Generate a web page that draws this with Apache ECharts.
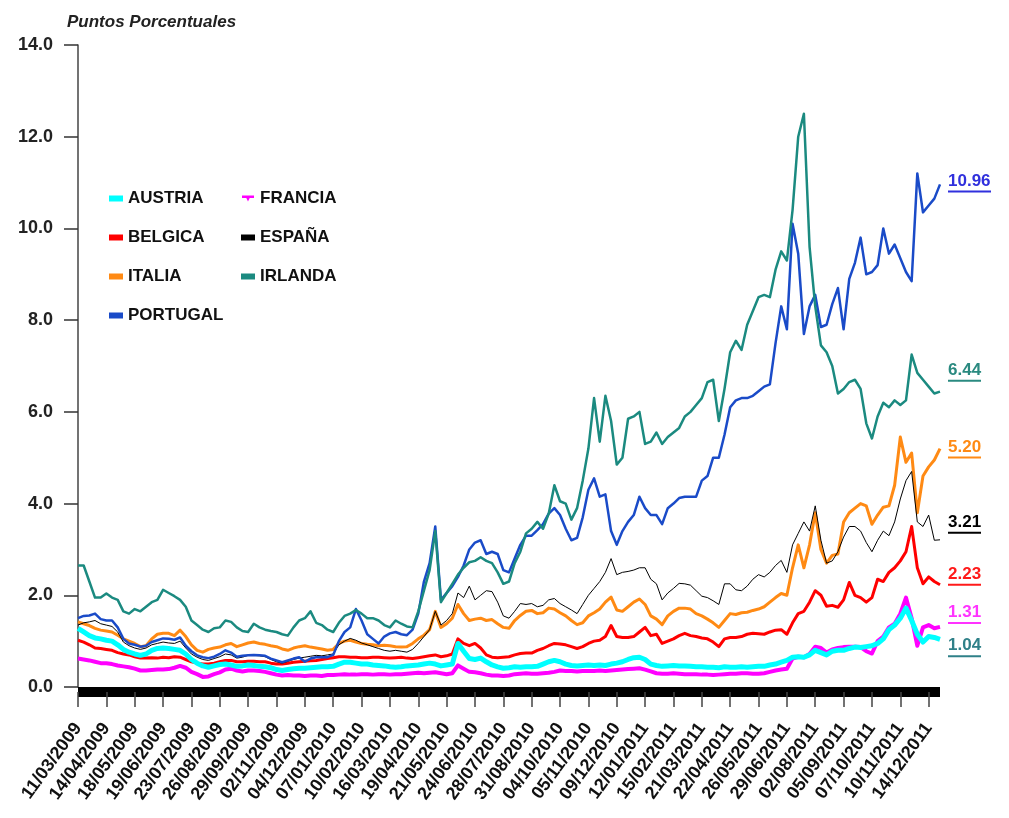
<!DOCTYPE html>
<html>
<head>
<meta charset="utf-8">
<script src="https://cdn.jsdelivr.net/npm/echarts@6/dist/echarts.min.js"></script>
<style>
html,body{margin:0;padding:0;background:#fff;}
#chart{width:1009px;height:818px;}
</style>
</head>
<body>
<div id="chart"></div>
<script>
// Tick dates shown on the x axis
var tickLabels = ['11/03/2009','14/04/2009','18/05/2009','19/06/2009','23/07/2009','26/08/2009','29/09/2009','02/11/2009','04/12/2009','07/01/2010','10/02/2010','16/03/2010','19/04/2010','21/05/2010','24/06/2010','28/07/2010','31/08/2010','04/10/2010','05/11/2010','09/12/2010','12/01/2011','15/02/2011','21/03/2011','22/04/2011','26/05/2011','29/06/2011','02/08/2011','05/09/2011','07/10/2011','10/11/2011','14/12/2011'];
var pointsPerTick = 5;
var extraPoints = 2;

var austria = [1.28,1.2,1.12,1.07,1.05, 1.02,1.0,0.92,0.82,0.76, 0.72,0.69,0.72,0.8,0.84, 0.85,0.84,0.82,0.8,0.72, 0.6,0.52,0.46,0.43,0.46, 0.49,0.5,0.48,0.45,0.46,
 0.48,0.47,0.45,0.44,0.42, 0.38,0.36,0.38,0.4,0.41, 0.41,0.42,0.43,0.44,0.44, 0.45,0.5,0.54,0.54,0.52, 0.5,0.5,0.48,0.47,0.46, 0.44,0.43,0.44,0.46,0.47,
 0.48,0.5,0.52,0.5,0.46, 0.48,0.5,0.95,0.78,0.62, 0.6,0.63,0.55,0.48,0.44, 0.41,0.42,0.44,0.43,0.44, 0.44,0.45,0.5,0.55,0.58, 0.55,0.5,0.47,0.46,0.47,
 0.48,0.47,0.48,0.47,0.5, 0.52,0.55,0.6,0.64,0.65, 0.6,0.5,0.47,0.45,0.46, 0.47,0.46,0.46,0.45,0.44, 0.44,0.43,0.43,0.42,0.44, 0.43,0.43,0.44,0.43,0.44,
 0.45,0.45,0.48,0.5,0.54, 0.58,0.65,0.66,0.65,0.7, 0.8,0.75,0.7,0.78,0.8, 0.8,0.84,0.87,0.86,0.88, 0.9,0.95,1.05,1.25,1.35, 1.5,1.72,1.45,1.15,0.98,
 1.1,1.08,1.04];
var francia = [0.62,0.6,0.58,0.55,0.52, 0.52,0.5,0.47,0.45,0.43, 0.4,0.36,0.36,0.37,0.38, 0.38,0.39,0.42,0.46,0.42, 0.33,0.28,0.22,0.23,0.28, 0.32,0.38,0.4,0.36,0.34,
 0.36,0.36,0.35,0.33,0.3, 0.27,0.25,0.26,0.25,0.25, 0.24,0.25,0.25,0.24,0.26, 0.26,0.27,0.28,0.27,0.27, 0.28,0.28,0.27,0.28,0.28, 0.27,0.28,0.28,0.29,0.3,
 0.31,0.3,0.31,0.32,0.3, 0.28,0.3,0.47,0.4,0.33, 0.32,0.3,0.27,0.25,0.25, 0.24,0.25,0.28,0.29,0.3, 0.29,0.29,0.3,0.31,0.33, 0.36,0.35,0.35,0.34,0.35,
 0.35,0.35,0.36,0.35,0.36, 0.37,0.38,0.39,0.4,0.41, 0.38,0.34,0.3,0.29,0.29, 0.3,0.29,0.28,0.28,0.28, 0.27,0.27,0.26,0.27,0.28, 0.29,0.29,0.3,0.3,0.29,
 0.29,0.3,0.33,0.36,0.38, 0.4,0.62,0.66,0.65,0.72, 0.88,0.85,0.75,0.82,0.85, 0.87,0.88,0.88,0.87,0.78, 0.73,1.0,1.1,1.3,1.38, 1.6,1.95,1.5,0.9,1.3,
 1.35,1.28,1.31];
var belgica = [1.02,0.98,0.92,0.85,0.84, 0.82,0.8,0.75,0.72,0.7, 0.66,0.63,0.63,0.64,0.63, 0.65,0.64,0.66,0.65,0.6, 0.55,0.52,0.5,0.5,0.52, 0.55,0.58,0.58,0.55,0.55,
 0.56,0.56,0.55,0.55,0.52, 0.5,0.5,0.52,0.54,0.55, 0.56,0.57,0.58,0.6,0.62, 0.64,0.66,0.66,0.65,0.65, 0.64,0.64,0.65,0.65,0.64, 0.63,0.64,0.65,0.63,0.62,
 0.64,0.66,0.68,0.7,0.66, 0.68,0.72,1.05,0.95,0.9, 0.95,0.85,0.7,0.65,0.64, 0.65,0.66,0.7,0.73,0.74, 0.74,0.8,0.84,0.9,0.95, 0.94,0.92,0.88,0.84,0.88,
 0.95,1.0,1.02,1.1,1.34, 1.1,1.08,1.08,1.1,1.2, 1.3,1.12,1.15,0.95,1.0, 1.05,1.12,1.17,1.12,1.1, 1.07,1.05,0.98,0.88,1.05, 1.08,1.08,1.1,1.15,1.17,
 1.16,1.15,1.2,1.24,1.25, 1.15,1.4,1.6,1.65,1.85, 2.1,2.0,1.76,1.78,1.74, 1.9,2.28,2.0,1.95,1.85, 1.95,2.35,2.3,2.5,2.6, 2.75,2.95,3.5,2.6,2.25,
 2.4,2.3,2.23];
var espana = [1.35,1.4,1.42,1.45,1.38, 1.35,1.32,1.2,0.98,0.9, 0.85,0.82,0.85,0.92,0.95, 0.98,0.96,0.95,1.0,0.85, 0.72,0.65,0.6,0.58,0.62, 0.66,0.72,0.7,0.63,0.65,
 0.69,0.69,0.68,0.66,0.6, 0.55,0.52,0.56,0.6,0.63, 0.65,0.67,0.69,0.68,0.7, 0.72,0.92,1.0,1.06,1.02, 0.96,0.92,0.88,0.84,0.8, 0.78,0.8,0.78,0.76,0.82,
 0.95,1.1,1.25,1.65,1.35, 1.45,1.6,2.05,1.95,2.2, 1.9,2.0,2.1,2.08,1.85, 1.55,1.5,1.65,1.82,1.8, 1.82,1.75,1.78,1.9,1.93, 1.82,1.75,1.68,1.6,1.8,
 2.0,2.15,2.3,2.5,2.8, 2.45,2.5,2.52,2.55,2.6, 2.6,2.35,2.25,1.9,2.05, 2.15,2.26,2.25,2.22,2.1, 1.98,1.95,1.88,1.8,2.25, 2.25,2.12,2.1,2.2,2.35,
 2.45,2.4,2.5,2.65,2.76, 2.5,3.1,3.35,3.6,3.4, 3.95,3.2,2.7,2.75,2.95, 3.27,3.5,3.5,3.4,3.15, 2.95,3.2,3.4,3.3,3.6, 4.1,4.5,4.7,3.6,3.5,
 3.75,3.2,3.21];
var italia = [1.42,1.38,1.34,1.28,1.24, 1.22,1.2,1.13,1.05,1.0, 0.95,0.88,0.9,1.05,1.15, 1.17,1.17,1.12,1.24,1.1, 0.92,0.8,0.76,0.82,0.85, 0.87,0.92,0.95,0.88,0.92,
 0.96,0.98,0.95,0.93,0.9, 0.88,0.83,0.8,0.85,0.88, 0.9,0.87,0.85,0.83,0.8, 0.82,0.95,1.0,1.02,0.98, 0.95,0.93,0.92,0.9,0.91, 0.9,0.88,0.87,0.88,0.95,
 1.05,1.13,1.25,1.65,1.3, 1.38,1.5,1.8,1.6,1.45, 1.48,1.5,1.45,1.47,1.38, 1.3,1.28,1.45,1.56,1.65, 1.67,1.6,1.62,1.72,1.7, 1.62,1.55,1.45,1.36,1.4,
 1.55,1.62,1.7,1.85,1.96, 1.68,1.65,1.75,1.85,1.92, 1.8,1.55,1.48,1.36,1.55, 1.65,1.72,1.72,1.7,1.6, 1.55,1.48,1.4,1.3,1.45, 1.6,1.58,1.62,1.63,1.67,
 1.7,1.75,1.85,1.95,2.04, 2.0,2.6,3.1,2.6,3.1, 3.8,3.0,2.7,2.87,2.9, 3.6,3.8,3.9,4.0,3.95, 3.55,3.75,3.92,3.95,4.4, 5.45,4.9,5.1,3.8,4.6,
 4.8,4.95,5.2];
var irlanda = [2.65,2.65,2.3,1.95,1.95, 2.04,1.95,1.9,1.65,1.6, 1.7,1.65,1.75,1.85,1.9, 2.12,2.05,1.98,1.9,1.75, 1.45,1.35,1.25,1.2,1.28, 1.3,1.45,1.42,1.3,1.22,
 1.2,1.38,1.3,1.25,1.22, 1.2,1.15,1.12,1.3,1.45, 1.5,1.65,1.4,1.35,1.25, 1.2,1.4,1.55,1.6,1.68, 1.6,1.5,1.5,1.45,1.35, 1.3,1.45,1.38,1.32,1.3,
 1.65,2.1,2.55,3.4,1.85, 2.05,2.25,2.45,2.6,2.72, 2.75,2.83,2.75,2.7,2.5, 2.25,2.3,2.7,2.95,3.35, 3.45,3.6,3.45,3.78,4.4, 4.05,4.0,3.65,3.9,4.5,
 5.2,6.3,5.35,6.35,5.8, 4.85,5.0,5.85,5.9,6.0, 5.3,5.35,5.55,5.3,5.45, 5.55,5.65,5.9,6.0,6.15, 6.3,6.65,6.7,5.8,6.5, 7.3,7.55,7.35,7.9,8.2,
 8.5,8.55,8.5,9.1,9.5, 9.3,10.4,12.0,12.5,9.6, 8.3,7.45,7.3,7.0,6.4, 6.5,6.65,6.7,6.5,5.75, 5.42,5.9,6.2,6.1,6.25, 6.15,6.25,7.25,6.85,6.7,
 6.55,6.4,6.44];
var portugal = [1.5,1.55,1.56,1.6,1.48, 1.45,1.45,1.3,1.05,0.95, 0.92,0.88,0.9,0.98,1.02, 1.06,1.05,1.03,1.08,0.9, 0.78,0.69,0.65,0.63,0.66, 0.72,0.8,0.75,0.66,0.68,
 0.69,0.7,0.69,0.68,0.62, 0.58,0.54,0.58,0.62,0.65, 0.55,0.62,0.65,0.65,0.65, 0.7,1.0,1.2,1.3,1.7, 1.45,1.15,1.05,0.95,1.1, 1.17,1.2,1.15,1.13,1.25,
 1.6,2.3,2.7,3.5,1.9, 2.05,2.2,2.4,2.65,3.0, 3.15,3.2,2.9,2.95,2.9, 2.55,2.5,2.8,3.1,3.3, 3.3,3.42,3.55,3.78,3.9, 3.75,3.45,3.2,3.25,3.7,
 4.3,4.55,4.15,4.2,3.4, 3.1,3.4,3.6,3.75,4.15, 3.9,3.75,3.75,3.55,3.9, 4.0,4.12,4.15,4.15,4.15, 4.5,4.6,5.0,5.0,5.5, 6.1,6.25,6.3,6.3,6.35,
 6.45,6.55,6.6,7.5,8.3, 7.8,10.1,9.45,7.7,8.3, 8.55,7.85,7.9,8.35,8.7, 7.8,8.9,9.25,9.8,9.0, 9.05,9.2,10.0,9.45,9.65, 9.35,9.05,8.85,11.2,10.35,
 10.5,10.65,10.96];

// Build the category list (tick dates plus the dates between them)
function parseD(s){var p=s.split('/');return new Date(Date.UTC(+p[2],+p[1]-1,+p[0]));}
function fmtD(d){function z(n){return (n<10?'0':'')+n;}return z(d.getUTCDate())+'/'+z(d.getUTCMonth()+1)+'/'+d.getUTCFullYear();}
var categories = [];
for (var i = 0; i < tickLabels.length; i++) {
  categories.push(tickLabels[i]);
  var a = parseD(tickLabels[i]).getTime();
  var b = i < tickLabels.length - 1 ? parseD(tickLabels[i+1]).getTime() : a + (a - parseD(tickLabels[i-1]).getTime());
  var n = i < tickLabels.length - 1 ? pointsPerTick - 1 : extraPoints;
  for (var k = 1; k <= n; k++) {
    var t = a + (b - a) * k / pointsPerTick;
    categories.push(fmtD(new Date(Math.round(t / 86400000) * 86400000)));
  }
}

var FONT = '"Liberation Sans", Arial, sans-serif';
var measureCtx = document.createElement('canvas').getContext('2d');
function textW(s, size){ measureCtx.font = 'bold ' + size + 'px ' + FONT; return Math.round(measureCtx.measureText(s).width); }

function mkSeries(name, data, color, width, labelColor, dy, z){
  var txt = data[data.length-1].toFixed(2);
  return {
    name: name, type: 'line', data: data, symbol: 'none', z: z,
    lineStyle: {color: color, width: width, join: 'round'},
    itemStyle: {color: color},
    emphasis: {disabled: true},
    endLabel: {
      show: true,
      distance: 8,
      offset: [0, dy],
      formatter: function(){ return '{v|' + txt + '}\n{u|}'; },
      rich: {
        v: {fontFamily: FONT, fontWeight: 'bold', fontSize: 17, color: labelColor, lineHeight: 18},
        u: {width: textW(txt, 17), height: 2, backgroundColor: labelColor, lineHeight: 3}
      }
    }
  };
}

var chart = echarts.init(document.getElementById('chart'), null, {renderer: 'canvas'});
var legendText = {fontFamily: FONT, fontWeight: 'bold', fontSize: 17, color: '#111'};
var option = {
  backgroundColor: '#ffffff',
  animation: false,
  title: {
    text: 'Puntos Porcentuales', left: 62, top: 9,
    textStyle: {fontFamily: FONT, fontStyle: 'italic', fontWeight: 'bold', fontSize: 17, color: '#222'}
  },
  grid: {left: 78, right: 69, top: 45, bottom: 131, containLabel: false},
  legend: [{
    orient: 'vertical', left: 104, top: 185, itemGap: 22,
    itemWidth: 14, itemHeight: 6, textStyle: legendText,
    data: [{name: 'AUSTRIA', icon: 'rect'}, {name: 'BELGICA', icon: 'rect'}, {name: 'ITALIA', icon: 'rect'}, {name: 'PORTUGAL', icon: 'rect'}]
  }, {
    orient: 'vertical', left: 236, top: 185, itemGap: 22,
    itemWidth: 14, itemHeight: 6, textStyle: legendText,
    data: [{name: 'FRANCIA', icon: 'path://M0,0 L14,0 L14,3 L9,3 L7,7 L5,3 L0,3 Z'}, {name: 'ESPAÑA', icon: 'rect'}, {name: 'IRLANDA', icon: 'rect'}]
  }],
  xAxis: {
    type: 'category', data: categories, boundaryGap: false,
    axisLine: {onZero: false, lineStyle: {color: '#000', width: 10, cap: 'butt'}},
    offset: 5,
    axisTick: {show: true, length: 15, interval: function(idx){ return idx % pointsPerTick === 0; }, lineStyle: {color: '#444', width: 1.5}},
    axisLabel: {
      interval: function(idx){ return idx % pointsPerTick === 0; },
      rotate: 54, margin: 33,
      fontFamily: FONT, fontWeight: 'bold', fontSize: 18, color: '#111'
    },
    splitLine: {show: false}
  },
  yAxis: {
    type: 'value', min: 0, max: 14, interval: 2,
    axisLine: {show: true, lineStyle: {color: '#444', width: 1.5}},
    axisTick: {show: true, length: 14, lineStyle: {color: '#333', width: 1.5}},
    axisLabel: {margin: 25, fontFamily: FONT, fontWeight: 'bold', fontSize: 18, color: '#222',
      formatter: function(v){ return v.toFixed(1); }},
    splitLine: {show: false}
  },
  series: [
    mkSeries('BELGICA', belgica, '#ff0000', 3, '#ff1a1a', -9, 2),
    mkSeries('FRANCIA', francia, '#ff00ff', 4, '#ff33ff', -13, 3),
    mkSeries('AUSTRIA', austria, '#00ffff', 5, '#2f8088', 8, 4),
    mkSeries('ITALIA', italia, '#ff8a14', 3, '#ff8a14', 0, 5),
    mkSeries('ESPAÑA', espana, '#000000', 1, '#000000', -16, 6),
    mkSeries('PORTUGAL', portugal, '#1a4bc8', 2.5, '#3030dd', -2, 7),
    mkSeries('IRLANDA', irlanda, '#1b8a80', 2.5, '#2a8a80', -20, 8)
  ]
};
chart.setOption(option);
</script>
</body>
</html>
